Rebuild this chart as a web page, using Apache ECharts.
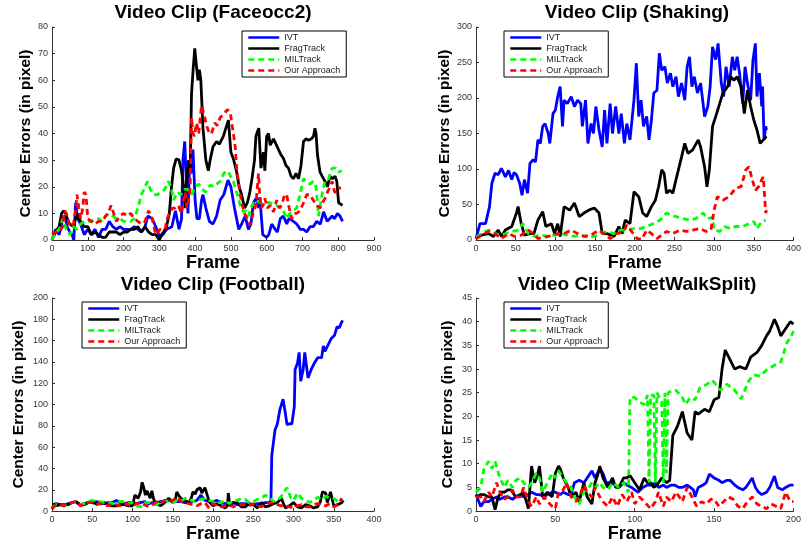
<!DOCTYPE html>
<html><head><meta charset="utf-8">
<script src="https://cdn.jsdelivr.net/npm/echarts@6/dist/echarts.min.js"></script>
<style>html,body{margin:0;padding:0;background:#fff}#c{width:804px;height:544px}</style>
</head><body><div id="c"></div>
<script>
const seriesNames = ['IVT', 'FragTrack', 'MILTrack', 'Our Approach'];
const panelTitles = ['Video Clip (Faceocc2)', 'Video Clip (Shaking)', 'Video Clip (Football)', 'Video Clip (MeetWalkSplit)'];
const xAxisName = 'Frame';
const yAxisName = 'Center Errors (in pixel)';

// ---- Faceocc2 ----
const faceIVT = [[0,0],[10,4],[20,2],[30,8],[36,9],[42,5],[50,3],[56,2],[61,0],[66,14],[72,8],[80,6],[90,2],[100,4],[110,2],[120,4],[130,1],[140,4],[150,4],[160,7],[170,5],[180,4],[190,5],[200,4],[210,4],[220,4],[230,5],[240,4],[250,3],[260,5],[268,9],[280,8],[290,5],[301,1],[310,2],[320,4],[335,5],[345,11],[355,4],[362,8],[366,30],[371,37],[376,20],[380,10],[385,30],[390,25],[394,34],[400,15],[405,8],[412,8],[418,15],[422,17],[430,12],[440,7],[450,6],[460,9],[470,15],[480,17],[492,22.5],[500,20],[510,12],[516,8],[522,4],[530,6],[540,9],[549,4],[556,6],[563,14],[572,16],[578,12],[581,16],[589,2],[600,1],[606,2],[614,6],[624,4],[630,3],[638,8],[647,9],[656,6],[662,8],[670,7.5],[684,6],[694,4],[703,4],[712,3],[721,5],[730,5],[740,7],[750,6],[759,10.6],[769,7],[776,8],[783,9],[790,8],[798,10],[805,9],[812,7]];
const faceFrag = [[0,0],[10,3],[20,5],[27,10],[33,11],[38,10],[45,7],[50,6],[60,5],[66,8],[70,10],[75,8],[80,7],[90,5],[100,5],[110,2],[120,3],[130,2],[140,1],[150,1],[160,3],[170,3],[180,3],[190,2],[200,3],[210,3],[220,4],[230,4],[240,5],[250,3],[260,5],[270,3],[280,2],[290,2],[300,0],[306,2],[312,3],[320,5],[328,10],[334,20],[340,27],[347,30.5],[355,30],[362,26],[368,20],[372,12],[376,22],[382,30],[386,25],[390,55],[395,65],[399,72],[404,65],[408,60],[412,64],[416,60],[422,42],[430,30],[437,26],[442,30],[450,35],[460,37],[468,36],[479,39],[486,42],[493,45],[500,33],[508,30],[516,25.6],[523,20],[530,17],[538,12],[546,14],[553,18],[560,24],[566,30],[570,39],[575,41],[578,42],[584,27],[591,33],[595,26],[600,39],[605,40],[610,35.6],[619,38],[626,36],[633,34],[640,32],[647,30.6],[654,28],[661,27],[668,24],[675,23],[682,25],[689,23],[696,28],[703,37],[710,38],[717,37.5],[725,38],[731,39],[735,42],[738,40],[742,32],[749,25.6],[755,24],[763,22],[770,20],[777,24],[784,23],[791,24],[796,22],[801,14],[806,14],[812,13]];
const faceMIL = [[0,0],[10,3],[20,4],[30,8],[40,4],[50,2],[60,5],[70,4],[80,6],[90,7],[100,7],[110,7],[120,8],[130,8],[140,7],[150,9],[160,10],[170,9],[180,8],[190,8],[200,7],[210,7],[220,7],[230,8],[240,12],[250,17],[260,20],[267,22],[275,19],[285,17],[295,17],[305,18],[315,19],[325,22],[333,20],[340,15],[350,18],[360,17],[370,19],[380,19],[390,17],[400,20],[410,21],[420,19],[430,18],[442,20.6],[452,20],[460,21],[470,22],[480,25],[490,26],[495,25],[507,22],[516,18],[526,13],[535,10.6],[542,11],[549,9],[556,12],[563,14],[572,15],[581,14],[595,14],[610,14],[628,13],[642,12],[650,10],[656,8],[665,10],[675,11],[684,12],[693,17],[703,23],[712,22],[721,21],[730,22],[738,20],[745,9],[751,14],[756,18],[763,22],[773,23],[783,27],[793,27],[801,25.6],[810,26]];
const faceOur = [[0,2],[10,3],[20,3],[30,5],[35,11],[40,10],[50,5],[60,6],[65,10],[70,17],[75,12],[80,8],[86,12],[90,18],[95,17],[100,8],[110,7],[120,6],[130,7],[140,7],[150,9],[160,11],[165,13],[170,13],[175,9],[180,7],[190,9],[200,10],[210,9],[220,10],[230,8],[240,7],[250,6],[260,7],[270,11],[280,8],[290,2],[302,4],[316,4],[322,8],[330,10.6],[337,12],[344,12],[353,13],[362,10],[368,15],[372,18],[377,12],[381,14],[386,19],[390,46],[394,40],[398,39],[404,44],[410,40],[418,50.6],[425,47],[432,43],[440,40],[446,40],[455,44],[462,43],[470,46],[479,47],[490,49],[498,48],[507,40],[512,35],[516,27],[523,20],[530,14],[538,10],[546,8],[554,5.6],[562,10],[570,13],[577,25],[580,18],[584,12],[590,13],[595,15.6],[602,12],[610,13],[619,10.6],[624,13],[628,15],[635,12],[642,13],[650,17],[656,17],[663,12],[670,8],[677,10],[684,10],[693,11],[703,14],[712,17],[721,17],[730,15],[740,13],[749,12],[756,14],[763,15.6],[770,18],[777,20],[783,22],[790,18],[797,18],[806,20]];

// ---- Shaking ----
const shakeIVT = [[0,2],[5,23],[12,23],[17,47],[20,80],[24,94],[28,92],[32,101],[37,89],[41,98],[45,85],[48,95],[51,92],[55,80],[58,63],[61,85],[65,66],[68,108],[72,113],[75,110],[78,141],[81,136],[84,160],[87,164],[91,150],[93,136],[97,178],[100,183],[103,202],[106,216],[109,160],[111,197],[115,192],[120,202],[124,188],[128,197],[132,192],[134,160],[138,197],[141,136],[145,164],[148,150],[151,188],[155,155],[159,131],[162,183],[165,136],[169,192],[172,150],[176,188],[180,150],[183,178],[187,136],[190,164],[194,141],[199,197],[202,249],[205,174],[208,197],[211,160],[215,174],[218,141],[221,169],[224,207],[228,211],[231,263],[234,239],[238,244],[241,221],[245,235],[248,216],[252,230],[255,202],[259,221],[263,197],[266,244],[269,258],[272,216],[275,230],[279,207],[283,221],[288,174],[292,188],[295,216],[298,272],[302,254],[305,277],[309,221],[312,202],[315,244],[319,216],[323,258],[326,239],[329,258],[332,235],[336,192],[339,244],[342,221],[346,197],[349,254],[352,277],[354,202],[357,235],[360,188],[361,216],[363,141],[365,160],[366,155]];
const shakeFrag = [[0,2],[7,7],[16,9],[22,5],[28,14],[32,5],[37,14],[45,19],[51,38],[53,47],[57,23],[61,7],[68,9],[73,9],[78,28],[84,40],[88,19],[95,23],[99,9],[103,23],[106,5],[111,47],[118,42],[124,52],[130,33],[136,38],[142,42],[149,45],[155,38],[159,9],[165,9],[174,5],[180,19],[184,9],[188,28],[194,23],[199,68],[205,61],[210,38],[215,33],[221,47],[226,56],[230,75],[234,99],[237,94],[240,66],[244,70],[248,66],[252,85],[259,117],[263,136],[267,122],[273,127],[280,141],[283,131],[288,103],[291,75],[294,99],[298,160],[302,174],[307,192],[311,207],[317,216],[321,230],[325,225],[329,230],[334,216],[338,178],[342,211],[346,188],[350,169],[354,155],[358,136],[362,141],[366,146]];
const shakeMIL = [[0,4],[7,9],[16,14],[24,9],[32,7],[45,12],[53,14],[59,23],[66,9],[74,5],[82,7],[91,5],[99,7],[107,9],[115,7],[124,5],[132,7],[140,4],[149,5],[157,9],[165,12],[174,9],[182,14],[190,14],[199,16],[207,16],[215,19],[223,23],[232,28],[240,38],[246,35],[252,33],[261,30],[269,28],[277,30],[286,38],[292,30],[298,32],[300,14],[307,12],[313,19],[321,16],[327,19],[336,19],[344,23],[350,26],[354,16],[360,26],[365,28]];
const shakeOur = [[0,2],[7,7],[16,12],[24,9],[32,2],[41,9],[49,5],[57,7],[66,14],[72,9],[78,2],[91,5],[103,9],[111,9],[120,14],[128,9],[136,5],[145,7],[155,14],[161,9],[169,2],[178,9],[186,12],[190,21],[196,12],[203,2],[209,1],[215,14],[221,9],[228,2],[234,7],[240,12],[248,9],[257,14],[265,12],[273,14],[282,16],[290,12],[296,14],[300,42],[304,61],[311,56],[319,61],[327,73],[334,75],[340,99],[344,103],[348,85],[352,70],[356,75],[360,85],[362,89],[365,38],[366,42]];

// ---- Football ----
const fbIVT = [[0,3],[5,7],[10,6],[15,5],[20,7],[25,8],[30,8],[35,6],[40,7],[45,8],[50,8],[55,9],[60,8],[65,7],[70,8],[75,8],[80,10],[85,8],[90,7],[95,8],[100,8],[105,7],[110,8],[115,9],[120,7],[125,8],[130,8],[135,9],[140,9],[145,10],[150,10],[155,9],[160,9],[165,8],[170,8],[175,9],[180,10],[185,15],[190,10],[195,9],[200,9],[205,10],[210,8],[215,7],[220,7],[225,8],[230,6],[235,7],[240,7],[245,6],[250,6],[255,7],[260,7],[265,8],[270,8],[272,10],[273,52],[277,76],[280,82],[283,95],[287,105],[289,96],[292,81],[295,82],[298,82],[301,98],[302,133],[305,139],[307,149],[309,122],[312,133],[314,149],[318,125],[322,133],[326,139],[330,144],[335,144],[337,155],[339,150],[343,156],[347,162],[351,165],[354,173],[357,172],[359,176],[361,179]];
const fbFrag = [[0,2],[3,7],[6,5],[10,6],[15,6],[20,6],[25,8],[30,9],[35,6],[40,6],[45,8],[50,8],[55,7],[60,7],[65,8],[70,6],[75,5],[80,5],[85,6],[90,6],[95,5],[100,5],[103,15],[107,12],[110,18],[112,27],[114,22],[116,15],[118,19],[120,20],[122,12],[124,19],[126,12],[128,8],[132,6],[135,5],[140,8],[145,12],[150,8],[153,10],[155,18],[158,14],[160,12],[165,10],[170,8],[173,12],[175,18],[178,16],[180,20],[184,22],[186,17],[188,18],[190,22],[192,22],[194,12],[196,8],[200,5],[205,7],[210,5],[215,3],[218,5],[219,17],[221,5],[225,8],[230,8],[235,4],[240,4],[245,7],[250,6],[255,3],[260,8],[265,4],[270,5],[275,7],[280,8],[285,12],[288,6],[290,3],[295,5],[300,8],[305,4],[310,3],[315,6],[320,5],[325,3],[330,4],[333,8],[336,18],[338,19],[340,17],[342,8],[344,8],[346,18],[348,17],[350,5],[355,6],[360,8],[362,10]];
const fbMIL = [[0,3],[5,6],[10,6],[15,5],[20,6],[25,8],[30,8],[35,6],[40,7],[45,9],[50,10],[55,9],[60,9],[65,8],[70,8],[75,7],[80,8],[85,9],[90,9],[95,7],[100,8],[105,5],[110,4],[115,8],[120,8],[125,6],[130,6],[135,9],[140,10],[145,9],[150,8],[155,10],[160,9],[165,12],[170,12],[175,9],[180,10],[185,11],[190,12],[195,10],[200,9],[205,8],[210,8],[215,10],[220,7],[225,10],[230,10],[235,12],[240,11],[245,8],[250,9],[255,11],[260,12],[265,15],[270,13],[275,9],[280,10],[285,14],[290,20],[292,22],[294,18],[297,12],[300,10],[305,17],[308,14],[310,12],[315,10],[320,8],[325,10],[330,13],[335,11],[340,14],[345,12],[350,12],[355,9],[360,11]];
const fbOur = [[0,2],[5,6],[10,6],[15,5],[20,7],[25,8],[30,9],[35,5],[40,6],[45,8],[50,8],[55,6],[60,7],[65,6],[70,5],[75,7],[80,6],[85,5],[90,7],[95,6],[100,5],[105,7],[110,8],[115,6],[120,4],[125,6],[130,9],[135,8],[140,10],[145,9],[150,10],[155,13],[158,11],[160,9],[165,8],[170,7],[175,6],[180,5],[185,7],[190,8],[195,3],[200,7],[205,5],[210,4],[215,5],[220,6],[225,4],[230,5],[235,6],[240,6],[245,5],[250,7],[255,5],[260,4],[265,6],[270,8],[275,7],[280,6],[285,5],[290,5],[295,4],[300,3],[305,5],[310,6],[315,4],[320,4],[325,6],[330,7],[335,6],[340,5],[345,7],[350,4],[355,6],[360,12]];

// ---- MeetWalkSplit ----
const mwIVT = [[0,3.5],[3,1],[5,2],[8,2],[10,2.5],[13,3],[15,2.5],[18,3],[20,3],[23,2.5],[25,3],[28,3.5],[30,3],[33,3.5],[35,4],[38,3.5],[40,3.5],[43,3],[45,3.5],[48,4],[50,4],[53,3.5],[55,4],[58,3.5],[60,3.5],[62,6],[65,6.5],[68,6],[70,7],[73,8.5],[75,7],[78,9],[80,8],[82,6],[85,6],[88,5.5],[90,5],[93,6],[95,5.5],[98,5],[100,4.5],[102,4],[105,5],[108,5.5],[110,5.5],[113,6],[115,5],[118,5.5],[120,5],[123,5.5],[125,5.5],[128,5],[130,5],[133,5.5],[135,5],[137,4.5],[138,3],[140,5],[143,5.5],[145,6],[147,7.8],[150,7],[153,6.5],[155,6],[158,6.5],[160,6.5],[163,5.5],[165,5],[168,4.5],[170,5],[172,6],[174,7],[176,5],[178,4],[180,3.5],[183,4],[185,5],[188,7.4],[190,5],[193,4.5],[195,5],[198,5.5],[200,5.5]];
const mwFrag = [[0,3],[3,3.5],[5,3.5],[8,3],[10,3],[12,0.3],[14,3],[16,4],[18,4],[20,4.5],[22,4.5],[25,3],[28,3.5],[30,4],[33,0.5],[35,9.5],[37,6],[39,8],[40,9.5],[42,3],[45,4],[48,3],[50,8],[52,9.5],[53,9],[55,7],[58,5],[60,3],[63,4],[65,2],[68,6],[70,3],[73,1.5],[75,6],[77,8],[78,9.5],[80,7],[83,5],[86,7],[88,5],[90,5],[93,7],[95,7],[97,7.5],[100,6],[103,4.5],[106,7],[108,6],[110,6],[112,5],[114,5.5],[117,7],[120,6],[122,6.5],[124,16],[127,18],[130,21],[133,16.5],[136,15],[137,15],[138,21],[140,20.5],[142,21],[144,21.5],[147,21],[150,23.5],[153,24],[155,30],[157,34],[160,32],[163,30],[166,30.5],[170,30],[173,32.5],[177,33.5],[180,35],[183,37],[185,38],[188,40.5],[190,39],[192,37],[195,38.5],[198,40],[200,39.5]];
const mwMIL = [[0,4],[3,5],[5,9],[8,10.5],[10,9],[12,10.5],[15,7],[18,5],[20,6.5],[23,5],[25,6.5],[28,7],[30,6],[33,5],[35,6],[38,8],[40,7],[42,4],[45,6],[48,8],[50,7],[52,8.5],[55,7],[57,6],[60,5],[62,3],[65,1.5],[68,4],[70,4.5],[73,6],[75,5],[78,6],[80,5],[83,4.5],[86,6],[90,5],[93,6],[96,4],[97,24],[100,24],[103,23],[106,22.5],[108,24.5],[109,6],[110,24.5],[112,24.5],[113,6],[114,25],[117,23],[118,6],[119,25],[120,8],[121,25],[124,25.5],[126,25.5],[130,24],[132,22.5],[135,24],[138,23.5],[141,26],[144,26.5],[149,27.6],[154,25.5],[158,26.8],[163,25.5],[167,23.7],[172,27.6],[175,28.8],[179,28.5],[183,29.8],[188,30.8],[192,31.5],[196,35.7],[198,36.5],[200,38]];
const mwOur = [[0,3],[3,3],[5,2],[8,4],[10,3],[13,6],[15,4],[18,2.5],[20,3],[23,4.5],[25,3],[28,3],[30,5],[33,2],[35,1],[38,3],[40,1.5],[43,3],[45,2],[48,1],[50,0.5],[52,4],[55,4.5],[57,6],[60,3],[63,2],[65,3],[68,5.5],[70,4],[73,3],[75,5],[78,3],[80,2],[83,1],[86,3],[89,1],[92,3.5],[95,2],[98,4],[100,1.5],[103,3],[106,2],[110,0.5],[113,2],[115,4],[118,1],[120,3],[123,2],[126,4],[130,2],[133,5],[136,3],[139,1],[142,2],[145,1.5],[148,2.5],[150,2.5],[153,1],[156,2],[159,3],[162,2.5],[165,1],[168,0.5],[171,2],[174,3],[177,1.5],[180,1],[183,0.5],[186,1.5],[189,1],[192,0.5],[195,4],[198,2],[200,2]];

const panelData = [
  [faceIVT, faceFrag, faceMIL, faceOur],
  [shakeIVT, shakeFrag, shakeMIL, shakeOur],
  [fbIVT, fbFrag, fbMIL, fbOur],
  [mwIVT, mwFrag, mwMIL, mwOur]
];
const xMaxes = [900, 400, 400, 200];
const xSteps = [100, 50, 50, 50];
const yMaxes = [80, 300, 200, 45];
const ySteps = [10, 50, 20, 5];

// layout / style
const layout = [
  {grid: {left: 52, top: 27, width: 322, height: 213}, legend: {left: 242, top: 31}, titleX: 213, titleY: 3, yGap: 18},
  {grid: {left: 476, top: 27, width: 321, height: 213}, legend: {left: 504, top: 31}, titleX: 637, titleY: 3, yGap: 23},
  {grid: {left: 52, top: 298, width: 322, height: 214}, legend: {left: 82, top: 302}, titleX: 213, titleY: 275, yGap: 25},
  {grid: {left: 476, top: 298, width: 321, height: 214}, legend: {left: 504, top: 302}, titleX: 637, titleY: 275, yGap: 20}
];
const colors = ['#0000ff', '#000000', '#00ff00', '#ff0000'];
const dashTypes = ['solid', 'solid', [6, 4], [6, 4]];
const FONT = 'Liberation Sans, Arial, sans-serif';

const option = {
  animation: false,
  backgroundColor: '#ffffff',
  title: [], grid: [], xAxis: [], yAxis: [], legend: [], series: []
};

layout.forEach((L, i) => {
  option.title.push({
    text: panelTitles[i], left: L.titleX, top: L.titleY, textAlign: 'center', padding: 0,
    textStyle: {fontFamily: FONT, fontSize: 19, fontWeight: 'bold', color: '#000'}
  });
  option.grid.push(Object.assign({containLabel: false}, L.grid));
  const axisCommon = {
    axisLine: {show: true, lineStyle: {color: '#333', width: 1}},
    axisTick: {show: true, inside: true, length: 3, lineStyle: {color: '#333'}},
    axisLabel: {fontFamily: FONT, fontSize: 9, color: '#333', margin: 4},
    splitLine: {show: false}
  };
  option.xAxis.push(Object.assign({
    type: 'value', gridIndex: i, min: 0, max: xMaxes[i], interval: xSteps[i],
    name: xAxisName, nameLocation: 'middle', nameGap: 11,
    nameTextStyle: {fontFamily: FONT, fontSize: 18, fontWeight: 'bold', color: '#000'}
  }, axisCommon));
  option.yAxis.push(Object.assign({
    type: 'value', gridIndex: i, min: 0, max: yMaxes[i], interval: ySteps[i],
    name: yAxisName, nameLocation: 'middle', nameGap: L.yGap,
    nameTextStyle: {fontFamily: FONT, fontSize: 15.5, fontWeight: 'bold', color: '#000'}
  }, axisCommon));
  option.legend.push({
    orient: 'vertical', left: L.legend.left, top: L.legend.top,
    data: seriesNames, itemWidth: 31, itemHeight: 9, itemGap: 2,
    padding: [2, 6, 2, 5], borderColor: '#000', borderWidth: 1, borderRadius: 0,
    backgroundColor: '#fff', selectedMode: false,
    itemStyle: {opacity: 0, borderWidth: 0},
    lineStyle: {width: 2.5},
    textStyle: {fontFamily: FONT, fontSize: 9, color: '#222'}
  });
  panelData[i].forEach((d, k) => {
    option.series.push({
      type: 'line', name: seriesNames[k], xAxisIndex: i, yAxisIndex: i, data: d,
      symbol: 'none', showSymbol: false, clip: true,
      lineStyle: {color: colors[k], width: 2.8, type: dashTypes[k]},
      itemStyle: {color: colors[k]}
    });
  });
});

const chart = echarts.init(document.getElementById('c'), null, {renderer: 'canvas'});
chart.setOption(option);
</script></body></html>
